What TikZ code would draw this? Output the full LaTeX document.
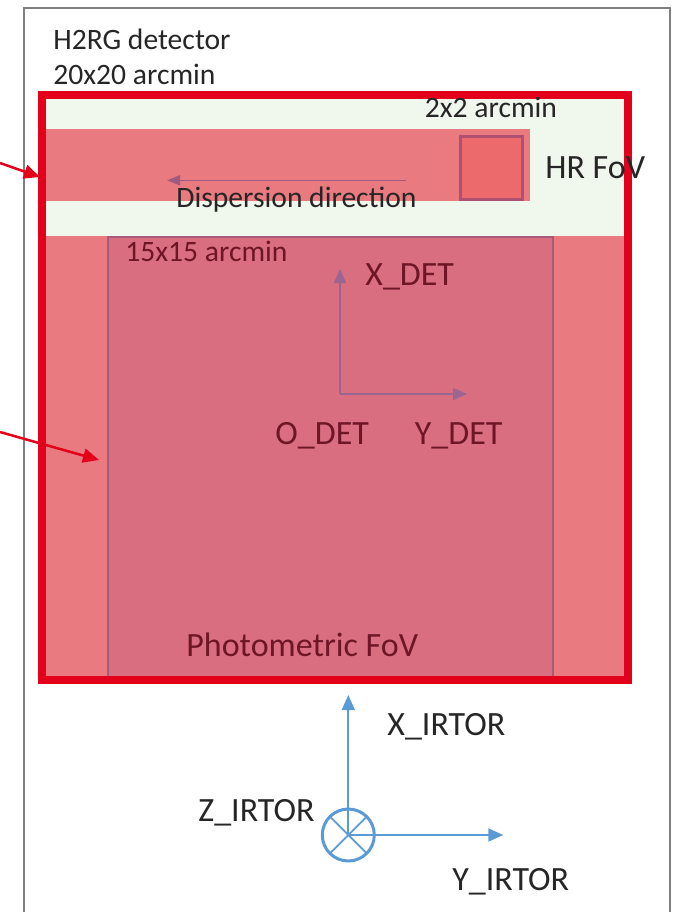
\documentclass[tikz,border=0pt]{standalone}
\usepackage{fontspec}
\setmainfont{Carlito}
\usetikzlibrary{arrows.meta, positioning}
\definecolor{framered}{RGB}{226,0,26}
\definecolor{fovgreen}{RGB}{240,247,236}
\definecolor{fovsalmon}{RGB}{233,122,128}
\definecolor{hrfill}{RGB}{236,106,108}
\definecolor{hredge}{RGB}{176,80,112}
\definecolor{photfill}{RGB}{217,110,128}
\definecolor{photedge}{RGB}{168,90,120}
\definecolor{axismauve}{RGB}{155,100,145}
\definecolor{dispmauve}{RGB}{160,90,130}
\definecolor{irblue}{RGB}{91,155,213}
\definecolor{sheetgray}{RGB}{127,127,127}
\definecolor{txtdark}{RGB}{38,38,38}
\definecolor{fovtext}{RGB}{110,22,38}
\tikzset{
    smalllbl/.style={font=\fontsize{14.8}{17}\selectfont, inner sep=0pt, anchor=base west, text=#1},
    smalllbl/.default=txtdark,
    biglbl/.style={font=\fontsize{17}{20}\selectfont, inner sep=0pt, anchor=base west, text=#1},
    biglbl/.default=txtdark,
    pointer/.style={-{Triangle[length=8pt, width=7pt]}, framered, line width=1.25pt},
    detaxis/.style={-{Triangle[length=7pt, width=6pt]}, axismauve, line width=0.8pt},
    iraxis/.style={-{Triangle[length=7.5pt, width=6.5pt]}, irblue, line width=0.9pt}
}

\begin{document}
\begin{tikzpicture}[x=0.5pt, y=-0.5pt]
\useasboundingbox (0,0) rectangle (680,912);

% sheet
\draw[sheetgray, line width=0.9pt] (24,912) -- (24,8) -- (670,8) -- (670,912);

% detector area
\fill[fovgreen] (42,95) rectangle (627.5,236);
\fill[fovsalmon] (42,236) rectangle (627.5,679.5);
\fill[fovsalmon] (42,129) rectangle (529.5,201);
\draw[hredge, fill=hrfill, line width=1.5pt] (460,136.5) rectangle (522.5,199.5);
\draw[photedge, fill=photfill, line width=1.2pt] (108,237) rectangle (553,679.5);
\draw[framered, line width=4pt] (42,95) rectangle (627.5,679.5);

% labels
\node[smalllbl] (h2rg) at (53,49.3) {H2RG detector};
\node[smalllbl] (size20) at (53,84.3) {20x20 arcmin};
\node[smalllbl] (size2) at (424.5,117) {2x2 arcmin};
\node[biglbl] (hrfov) at (545,178) {HR FoV};
\node[smalllbl] (disp) at (176,207) {Dispersion direction};
\node[smalllbl=fovtext] (size15) at (125,261.5) {15x15 arcmin};
\node[biglbl=fovtext] (xdetlbl) at (365,285) {X\_DET};
\node[biglbl=fovtext] (odetlbl) at (275,444.3) {O\_DET};
\node[biglbl=fovtext] (ydetlbl) at (414.5,444.3) {Y\_DET};
\node[biglbl=fovtext] (photfov) at (186,656.7) {Photometric FoV};
\node[biglbl] (xirlbl) at (387,735) {X\_IRTOR};
\node[biglbl] (zirlbl) at (198,821.7) {Z\_IRTOR};
\node[biglbl] (yirlbl) at (452,890) {Y\_IRTOR};

% dispersion arrow
\coordinate (disptail) at (406,180.3);
\coordinate (disptip) at (167,180.3);
\draw[-{Triangle[length=6.5pt, width=5pt]}, dispmauve, line width=0.75pt] (disptail) -- (disptip);

% detector axes
\coordinate (odet) at (340,394);
\coordinate (xdet) at (340,269);
\coordinate (ydet) at (467,394);
\draw[detaxis] (odet) -- (xdet);
\draw[detaxis] (odet) -- (ydet);

% pointers
\coordinate (ptrAstart) at (0,163);
\coordinate (ptrAtip) at (40,177);
\coordinate (ptrBstart) at (0,432);
\coordinate (ptrBtip) at (99,460);
\draw[pointer] (ptrAstart) -- (ptrAtip);
\draw[pointer] (ptrBstart) -- (ptrBtip);

% IRTOR axes
\coordinate (oir) at (348.3,835);
\coordinate (xir) at (348.3,695);
\coordinate (yir) at (503.3,835);
\draw[iraxis] (oir) -- (xir);
\draw[iraxis] (oir) -- (yir);
\draw[irblue, line width=1.5pt] (oir) circle[radius=13pt];
\draw[irblue, line width=0.9pt] (329.9,816.6) -- (366.7,853.4);
\draw[irblue, line width=0.9pt] (329.9,853.4) -- (366.7,816.6);

\end{tikzpicture}
\end{document}
